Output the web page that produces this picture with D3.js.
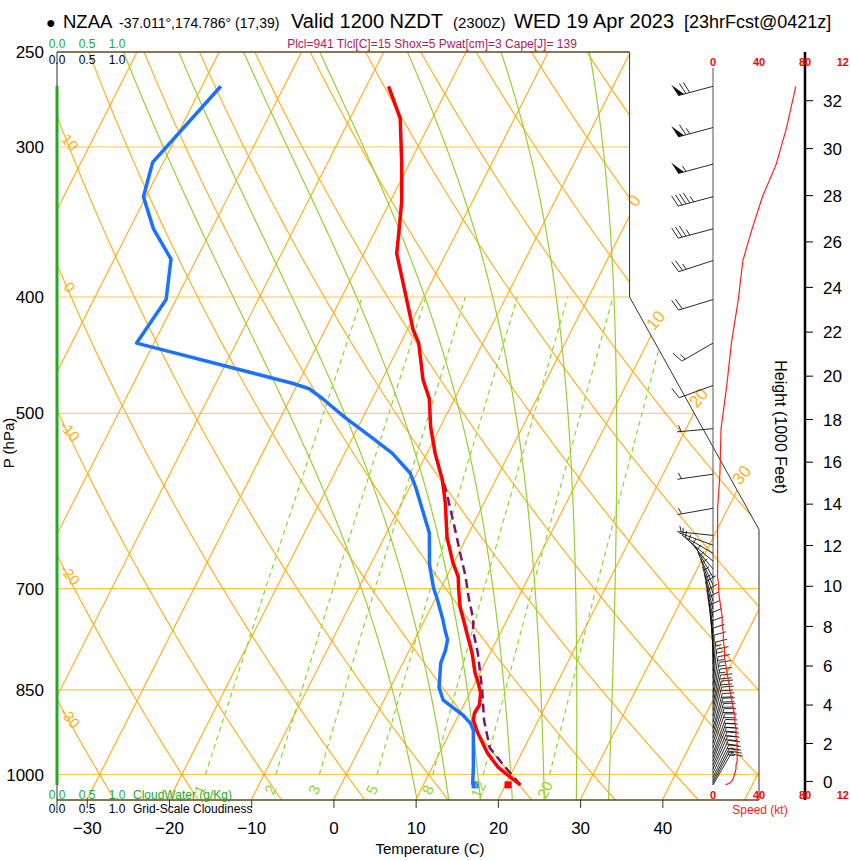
<!DOCTYPE html>
<meta charset="utf-8">
<script src="https://d3js.org/d3.v7.min.js"></script>
<style>
  body { margin: 0; background: #fff; }
  svg { font-family: "Liberation Sans", Arial, sans-serif; }
</style>
<div id="skewt"></div>
<script>

// ---- sounding data ----
var tempP = [1020,1005,986,959,923,901,889,875,855,839,823,792,768,743,725,700,684,666,634,594,568,540,513,486,469,437,426,398,368,354,333,310,284,267];
var tempT = [21.8,20.1,18.0,15.8,13.4,12.1,11.8,11.9,11.3,10.4,9.4,7.8,6.3,4.7,3.5,2.2,1.4,-0.1,-2.4,-4.7,-6.5,-9.0,-11.2,-13.1,-15.0,-17.8,-19.3,-22.4,-26.0,-27.0,-28.6,-30.9,-33.9,-37.3];

var dewP = [1020,986,918,906,892,880,867,846,807,788,772,758,743,715,699,669,629,576,561,540,522,504,486,477,472,437,402,372,351,330,309,267];
var dewT = [16.0,15.0,12.7,11.9,10.5,8.9,7.2,5.9,4.6,4.4,4.0,3.1,2.2,0.3,-0.9,-2.8,-4.8,-9.3,-10.8,-14.2,-18.1,-22.2,-26.1,-28.3,-30.7,-52.1,-51.2,-53.1,-57.1,-60.3,-61.3,-57.7];

var parcelP = [1020,985,950,901,850,792,758,743,711,684,654,626,587,566];
var parcelT = [21.8,18.8,15.8,13.4,11.3,8.5,6.5,5.9,3.9,2.3,0.2,-1.8,-4.8,-6.6];

var surfP = 1020, surfT = 20.3, surfTd = 16.3;

// winds: pressure (hPa), direction (deg), speed (kt)
var windP = [267,289,310,330,351,373,402,437,474,515,562,600,632,
             644,654,664,674,685,695,706,717,728,739,751,762,774,786,798,809,820,831,842,854,863,874,884,894,904,915,923,932,941,950,960,967,974,982,989,997,1005,1011,1016,1020];
var windDir = [255,255,255,255,255,252,253,240,250,265,262,260,276,
               290,300,310,320,330,335,340,343,346,348,350,352,354,356,358,0,2,4,6,8,10,11,12,13,14,15,16,17,18,19,20,21,22,23,24,25,26,27,28,30];
var windSpd = [72,64,55,43,34,26,22,16,12,7,6,4,4,
               4,4,4,4,4,5,5,6,7,8,8,9,9,10,10,11,12,13,14,15,16,17,18,19,19,20,20,20,21,21,21,21,21,20,20,19,18,17,15,11];

// cloud water / cloudiness profile (all zero)
var cloudP = [267, 1020];
var cloudWater = [0, 0];
var cloudFrac = [0, 0];

// ---- background grid values and ticks ----
var pressTicks = [250,300,400,500,700,850,1000];
var isobars = [300,400,500,700,850,1000];
var tempTicks = [-30,-20,-10,0,10,20,30,40];
var isotherms = [-100,-90,-80,-70,-60,-50,-40,-30,-20,-10,0,10,20,30,40,50];
var isoLabels = [0,10,20,30];
var dryAdiabats = [-30,-20,-10,0,10,20,30,40,50,60,70,80,90,100,110,120,130,140,150];
var moistAdiabats = [8,12,16,20,24,28,32];
var mixRatios = [1,2,3,5,8,12,20];
var heightTicks = [0,2,4,6,8,10,12,14,16,18,20,22,24,26,28,30,32];
var speedTicks = [0,40,80,120];
var cloudTicks = [0,0.5,1.0];

var orange = "#ffb020", isobarCol = "#ffc64a", green = "#9acd32", mixGreen = "#8fd629", cloudGreen = "#22aa22";

var svg = d3.select("#skewt").append("svg")
    .attr("width", 850).attr("height", 860);

// ---- scales (NCL skew-T coordinates) ----
var y = d3.scaleLog().domain([1050, 250]).range([800, 52]);
var xs = d3.scaleLinear().domain([-19, 27.1]).range([57, 759]);
function skewY(p) { return 132.182 - 44.061 * Math.log10(p); }
function px(T, p) { return xs(0.54 * T + 0.90692 * skewY(p)); }
var tAxisScale = d3.scaleLinear()
    .domain([(-19 - 0.90692 * skewY(1050)) / 0.54, (27.1 - 0.90692 * skewY(1050)) / 0.54])
    .range([57, 759]);
var spd = d3.scaleLinear().domain([0, 40]).range([713, 759]);
var cloudX = d3.scaleLinear().domain([0, 1]).range([57, 117]);

function stdP(kft) { return 1013.25 * Math.pow(1 - 0.0065 * kft * 304.8 / 288.15, 5.2559); }

// outline polygon
var poly = [[xs(-19), y(1050)], [xs(27.1), y(1050)], [xs(27.1), y(625)],
            [xs(18.6), y(400)], [xs(18.6), y(250)], [xs(-19), y(250)]];
svg.append("defs").append("clipPath").attr("id", "clip")
  .append("polygon").attr("points", poly.map(function(d) { return d.join(","); }).join(" "));

var bg = svg.append("g").attr("clip-path", "url(#clip)");
var line = d3.line().x(function(d) { return px(d[0], d[1]); }).y(function(d) { return y(d[1]); });
var plevs = d3.range(1050, 249.9, -5);

// isobars
bg.selectAll(".isobar").data(isobars).enter().append("line")
    .attr("x1", 57).attr("x2", 759)
    .attr("y1", function(d) { return y(d); }).attr("y2", function(d) { return y(d); })
    .attr("stroke", isobarCol).attr("stroke-width", 1.1);

// isotherms
bg.selectAll(".isotherm").data(isotherms).enter().append("path")
    .attr("d", function(t) { return line([[t, 1050], [t, 250]]); })
    .attr("fill", "none").attr("stroke", orange).attr("stroke-width", 1.2);

// dry adiabats
function dryPts(th) {
  return plevs.map(function(p) { return [(th + 273.15) * Math.pow(p / 1000, 0.2857) - 273.15, p]; });
}
bg.selectAll(".dry").data(dryAdiabats).enter().append("path")
    .attr("d", function(th) { return line(dryPts(th)); })
    .attr("fill", "none").attr("stroke", orange).attr("stroke-width", 1.2);

// moist adiabats
function esat(t) { return 6.112 * Math.exp(17.67 * t / (t + 243.5)); }
function dTdp(t, p) {
  var T = t + 273.15, es = esat(t), rs = 0.622 * es / (p - es);
  var Rd = 287.04, Cp = 1005.7, L = 2.501e6;
  return (Rd * T + L * rs) / (p * (Cp + L * L * rs * 0.622 / (Rd * T * T)));
}
function moistPts(tw) {
  var up = [], down = [], t = tw, p, h = 5, k1, k2;
  for (p = 1000; p >= 250; p -= h) {
    up.push([t, p]);
    k1 = dTdp(t, p); k2 = dTdp(t - k1 * h / 2, p - h / 2);
    t -= k2 * h;
  }
  t = tw;
  for (p = 1000; p <= 1055; p += h) {
    down.push([t, p]);
    k1 = dTdp(t, p); k2 = dTdp(t + k1 * h / 2, p + h / 2);
    t += k2 * h;
  }
  return down.reverse().concat(up);
}
bg.selectAll(".moist").data(moistAdiabats).enter().append("path")
    .attr("d", function(tw) { return line(moistPts(tw)); })
    .attr("fill", "none").attr("stroke", green).attr("stroke-width", 1.2);

// mixing ratio lines (1000 -> 400 hPa)
function tdFromW(w, p) {
  var e = w * p / (622 + w), l = Math.log(e / 6.112);
  return 243.5 * l / (17.67 - l);
}
bg.selectAll(".mix").data(mixRatios).enter().append("path")
    .attr("d", function(w) { return line([[tdFromW(w, 1000), 1000], [tdFromW(w, 700), 700], [tdFromW(w, 400), 400]]); })
    .attr("fill", "none").attr("stroke", mixGreen).attr("stroke-width", 1.2)
    .attr("stroke-dasharray", "5,4");

// ---- grid labels ----
// dry adiabat labels on the left edge
dryAdiabats.forEach(function(th) {
  var pts = d3.range(1050, 249, -1).map(function(p) {
    return [(th + 273.15) * Math.pow(p / 1000, 0.2857) - 273.15, p];
  });
  var hit = pts.find(function(d) { return px(d[0], d[1]) <= 67; });
  if (!hit) return;
  var lx = px(hit[0], hit[1]), ly = y(hit[1]);
  if (ly < 60 || ly > 790) return;
  svg.append("text").attr("transform", "translate(" + (lx - 1) + "," + (ly + 4) + ") rotate(50)")
    .attr("text-anchor", "middle").attr("fill", orange).style("font-size", "15px").text(th);
});
// isotherm labels where the line leaves the right side
isoLabels.forEach(function(t) {
  var last = null;
  for (var p = 1050; p >= 250; p -= 0.5) {
    var q = [px(t, p), y(p)];
    if (d3.polygonContains(poly, q)) last = q; else if (last) break;
  }
  var dx = px(t, 250) - px(t, 1050), dy = y(250) - y(1050), n = Math.sqrt(dx * dx + dy * dy);
  var lx = last[0] + 20 * dx / n, ly = last[1] + 20 * dy / n;
  svg.append("text").attr("transform", "translate(" + lx + "," + (ly + 6) + ") rotate(-50)")
    .attr("text-anchor", "middle").attr("fill", orange).style("font-size", "17px").text(t);
});

// ---- frame ----
svg.append("line").attr("x1", 57).attr("x2", xs(18.6)).attr("y1", y(250)).attr("y2", y(250))
    .attr("stroke", "#5a4a1c").attr("stroke-width", 1.5);
svg.append("line").attr("x1", 57).attr("x2", 759).attr("y1", y(1050)).attr("y2", y(1050))
    .attr("stroke", "#5a4a1c").attr("stroke-width", 1.5);
svg.append("line").attr("x1", 57).attr("x2", 57).attr("y1", y(250)).attr("y2", 812)
    .attr("stroke", "#333").attr("stroke-width", 1);
svg.append("path")
    .attr("d", "M" + poly[4] + "L" + poly[3] + "L" + poly[2] + "L" + poly[1])
    .attr("fill", "none").attr("stroke", "#333").attr("stroke-width", 1);

// ---- cloud profile ----
var cloudLine = d3.line().x(function(d) { return cloudX(d[0]); }).y(function(d) { return y(d[1]); });
svg.append("path").attr("d", cloudLine(cloudFrac.map(function(v, i) { return [v, cloudP[i]]; })))
    .attr("stroke", "#000").attr("stroke-width", 2).attr("fill", "none");
svg.append("path").attr("d", cloudLine(cloudWater.map(function(v, i) { return [v, cloudP[i]]; })))
    .attr("stroke", cloudGreen).attr("stroke-width", 3).attr("fill", "none");

// ---- sounding lines ----
svg.append("path").attr("d", line(dewT.map(function(t, i) { return [t, dewP[i]]; })))
    .attr("fill", "none").attr("stroke", "#1a72ff").attr("stroke-width", 3.5).attr("stroke-linejoin", "round");
svg.append("path").attr("d", line(parcelT.map(function(t, i) { return [t, parcelP[i]]; })))
    .attr("fill", "none").attr("stroke", "#7b1670").attr("stroke-width", 2.5).attr("stroke-dasharray", "9,5");
svg.append("path").attr("d", line(tempT.map(function(t, i) { return [t, tempP[i]]; })))
    .attr("fill", "none").attr("stroke", "#ff0000").attr("stroke-width", 3.5).attr("stroke-linejoin", "round");

svg.append("rect").attr("x", px(surfT, surfP) - 3.5).attr("y", y(surfP) - 3.5)
    .attr("width", 7).attr("height", 7).attr("fill", "#ff0000");
svg.append("rect").attr("x", px(surfTd, surfP) - 3.5).attr("y", y(surfP) - 3.5)
    .attr("width", 7).attr("height", 7).attr("fill", "#1a72ff");

// mixing ratio labels (under the 1000 hPa line)
mixRatios.forEach(function(w) {
  var lx = px(tdFromW(w, 1022), 1022), ly = y(1022);
  svg.append("text").attr("transform", "translate(" + (lx + 3) + "," + (ly + 6) + ") rotate(-65)")
    .attr("text-anchor", "middle").attr("fill", mixGreen).style("font-size", "15px").text(w);
});

// ---- wind barbs ----
svg.append("line").attr("x1", spd(0)).attr("x2", spd(0)).attr("y1", 68).attr("y2", y(1020))
    .attr("stroke", "#555").attr("stroke-width", 1);

function barb(x0, y0, dir, s) {
  var a = dir * Math.PI / 180, ux = Math.sin(a), uy = -Math.cos(a);
  var tx = x0 + 36 * ux, ty = y0 + 36 * uy;
  var fa = Math.atan2(uy, ux) + 72 * Math.PI / 180, fx = Math.cos(fa), fy = Math.sin(fa);
  var k = Math.round(s / 5) * 5, d = 0, path = "M" + x0 + "," + y0 + "L" + tx + "," + ty, flags = "";
  while (k >= 50) {
    var ax = tx - d * ux, ay = ty - d * uy;
    flags += "M" + ax + "," + ay + "L" + (ax + 13 * fx) + "," + (ay + 13 * fy) +
             "L" + (tx - (d + 6) * ux) + "," + (ty - (d + 6) * uy) + "Z";
    d += 8; k -= 50;
  }
  if (k === 5 && d === 0) d = 4;
  while (k >= 5) {
    var len = k >= 10 ? 12 : 6.5;
    var bx = tx - d * ux, by = ty - d * uy;
    path += "M" + bx + "," + by + "L" + (bx + len * fx) + "," + (by + len * fy);
    d += 4; k -= k >= 10 ? 10 : 5;
  }
  return { line: path, flag: flags };
}
var barbs = svg.append("g");
windP.forEach(function(p, i) {
  var b = barb(spd(0), y(p), windDir[i], windSpd[i]);
  barbs.append("path").attr("d", b.line).attr("fill", "none").attr("stroke", "#111").attr("stroke-width", 0.9);
  if (b.flag) barbs.append("path").attr("d", b.flag).attr("fill", "#111");
});

// speed profile
svg.append("path")
    .attr("d", d3.line().x(function(d) { return spd(d[0]); }).y(function(d) { return y(d[1]); })
      (windSpd.map(function(v, i) { return [v, windP[i]]; })))
    .attr("fill", "none").attr("stroke", "#ff2020").attr("stroke-width", 1.2);

// ---- axes ----
var left = svg.append("g").attr("transform", "translate(57,0)")
    .call(d3.axisLeft(y).tickValues(pressTicks).tickFormat(d3.format("d")).tickSize(0).tickPadding(13));
left.select(".domain").remove();
left.selectAll("text").style("font-size", "17px").attr("fill", "#000").style("font-family", "Liberation Sans, Arial");

var bottom = svg.append("g").attr("transform", "translate(0,800)")
    .call(d3.axisBottom(tAxisScale).tickValues(tempTicks).tickSize(8).tickPadding(14));
bottom.select(".domain").remove();
bottom.selectAll("line").attr("stroke", "#333");
bottom.selectAll("text").style("font-size", "17px").attr("fill", "#000").style("font-family", "Liberation Sans, Arial");

svg.append("text").attr("x", 430).attr("y", 854).attr("text-anchor", "middle")
    .style("font-size", "15px").text("Temperature (C)");
svg.append("text").attr("transform", "translate(14,443) rotate(-90)").attr("text-anchor", "middle")
    .style("font-size", "15px").text("P (hPa)");

// height axis
svg.append("line").attr("x1", 805).attr("x2", 805).attr("y1", 52).attr("y2", 800)
    .attr("stroke", "#000").attr("stroke-width", 2.5);
var hg = svg.append("g").selectAll("g").data(heightTicks).enter().append("g")
    .attr("transform", function(h) { return "translate(805," + y(stdP(h)) + ")"; });
hg.append("line").attr("x2", 8).attr("stroke", "#000").attr("stroke-width", 1);
hg.append("text").attr("x", 18).attr("dy", "0.36em").style("font-size", "17px").text(function(h) { return h; });
svg.append("text").attr("transform", "translate(775,427) rotate(90)").attr("text-anchor", "middle")
    .style("font-size", "16px").text("Height (1000 Feet)");

// speed axis labels (the last one runs off the right edge in the original: only "12" shows)
[66, 799].forEach(function(yy) {
  svg.selectAll(null).data(speedTicks).enter().append("text")
      .attr("x", function(d) { return d > 80 ? 849 : spd(d); }).attr("y", yy)
      .attr("text-anchor", function(d) { return d > 80 ? "end" : "middle"; })
      .attr("fill", "#ff0000").style("font-size", "11px").style("font-weight", "bold")
      .text(function(d) { return d > 80 ? String(d).slice(0, 2) : d; });
});
svg.append("text").attr("x", 760).attr("y", 814).attr("text-anchor", "middle")
    .attr("fill", "#ff2020").style("font-size", "12px").text("Speed (kt)");

// cloud scale labels
var fmt = d3.format(".1f");
[[48, cloudGreen], [64, "#000"], [799, cloudGreen], [813, "#000"]].forEach(function(r) {
  svg.selectAll(null).data(cloudTicks).enter().append("text")
      .attr("x", function(d) { return cloudX(d); }).attr("y", r[0]).attr("text-anchor", "middle")
      .attr("fill", r[1]).style("font-size", "12px").text(function(d) { return fmt(d); });
});
svg.append("text").attr("x", 133).attr("y", 799).attr("fill", cloudGreen).style("font-size", "12px").text("CloudWater (g/Kg)");
svg.append("text").attr("x", 133).attr("y", 813).attr("fill", "#000").style("font-size", "12px").text("Grid-Scale Cloudiness");

// ---- header ----
svg.append("text").attr("x", 46).attr("y", 28).style("font-size", "16px").text("●");
svg.append("text").attr("x", 63).attr("y", 28).style("font-size", "18.5px").text("NZAA");
svg.append("text").attr("x", 119).attr("y", 28).style("font-size", "14px").text("-37.011°,174.786° (17,39)");
svg.append("text").attr("x", 291).attr("y", 28).style("font-size", "20px").text("Valid 1200 NZDT");
svg.append("text").attr("x", 453).attr("y", 28).style("font-size", "15px").text("(2300Z)");
svg.append("text").attr("x", 514).attr("y", 28).style("font-size", "20px").text("WED 19 Apr 2023");
svg.append("text").attr("x", 684).attr("y", 28).style("font-size", "18px").text("[23hrFcst@0421z]");
svg.append("text").attr("x", 432).attr("y", 48).attr("text-anchor", "middle")
    .attr("fill", "#b3175c").style("font-size", "12px")
    .text("Plcl=941 Tlcl[C]=15 Shox=5 Pwat[cm]=3 Cape[J]= 139");

</script>
